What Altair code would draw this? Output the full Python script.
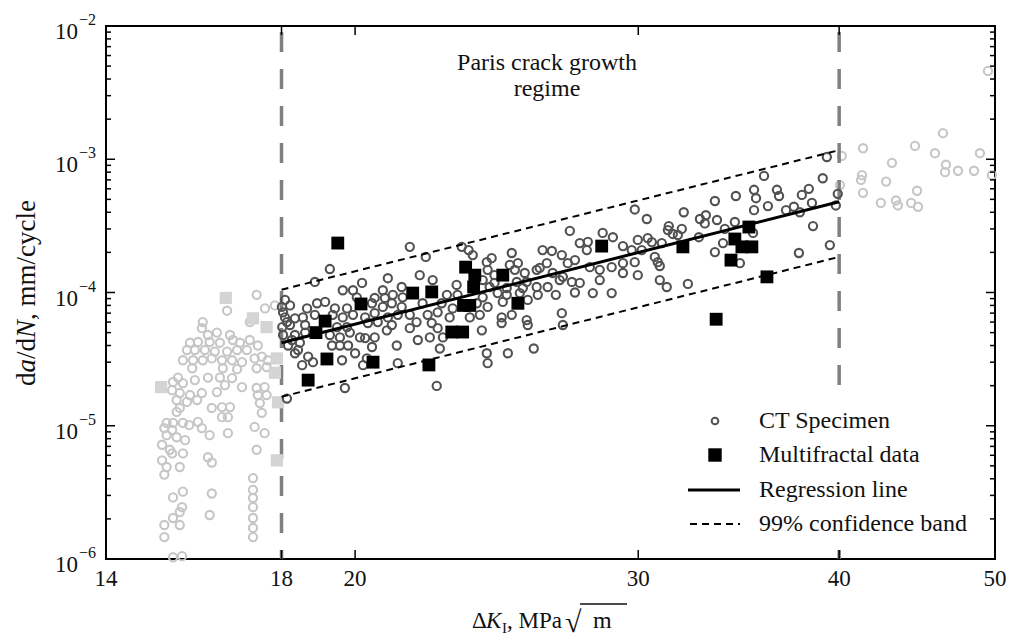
import altair as alt
import pandas as pd

# ---------------- data ----------------
# CT specimen, Paris regime (dark open circles)
CT_K = [21.63, 22.13, 19.29, 18.88, 20.96, 20.20, 21.94, 22.35, 19.65, 19.94, 20.81, 21.38,
        20.05, 20.57, 20.87, 21.11, 21.41, 18.01, 18.22, 18.67, 18.94, 19.16, 19.43, 19.77, 20.49, 20.81, 21.08, 21.38, 22.03, 22.64,
        18.09, 18.35, 18.56, 18.88, 19.37, 19.65, 19.94, 20.29, 20.57, 20.96, 21.26, 21.63, 22.19, 22.51,
        18.02, 18.22, 18.62, 19.49, 19.77, 20.37, 20.66, 21.08, 21.84, 22.32,
        18.35, 18.62, 19.29, 19.57, 19.85, 20.14, 20.57, 20.93, 21.63, 22.51,
        18.17, 18.48, 19.35, 19.57, 19.80, 20.29, 20.49, 21.23, 21.88, 22.26, 22.58,
        18.35, 18.70, 19.63, 20.00, 20.34, 18.54, 18.83, 20.23, 21.26, 19.71, 22.48,
        18.04, 18.14, 18.27, 18.43, 18.04, 18.09, 18.14,
        23.30, 23.53, 27.20, 28.51, 28.93, 27.59, 27.91, 27.87, 23.67, 25.03, 26.16, 26.51, 26.89,
        24.15, 24.32, 24.96, 25.25, 26.05, 26.32, 27.12, 27.40, 27.99, 28.39, 28.88,
        24.18, 24.42, 25.14, 25.50, 25.94, 26.54, 26.93, 24.01, 24.42, 25.21, 25.57, 26.81, 27.28, 28.39, 27.59,
        23.13, 24.25, 24.85, 25.43, 25.94, 26.35,
        22.81, 23.16, 27.40, 28.11, 28.88, 24.01, 24.53, 24.85, 25.32, 25.98, 26.66,
        23.00, 23.81, 24.18, 24.71, 25.61, 22.90, 23.57, 23.91, 24.67, 25.03, 25.57, 26.89,
        24.67, 25.61, 26.93, 23.98, 22.68, 24.15, 24.18, 24.89, 25.83,
        39.30, 39.07, 35.92, 39.92, 39.81, 35.41, 35.51, 36.59, 36.70, 34.50, 38.30, 37.92, 33.48, 38.47,
        35.41, 36.12, 37.07, 37.49, 37.81, 29.85, 30.37, 32.02, 32.77, 33.05, 33.00, 33.58, 34.45, 33.96,
        31.34, 31.30, 31.52, 31.93, 31.75, 32.72, 29.35, 29.98, 30.41, 30.59, 31.03, 33.87, 35.36,
        38.53, 39.47, 29.72, 30.15, 33.48, 37.76, 29.35, 29.85, 30.72, 30.85, 30.94, 34.70,
        29.35, 29.98, 30.94, 31.25, 32.21]
CT_DADN = [2.2e-4, 1.85e-4, 1.5e-4, 1.2e-4, 1.28e-4, 1.18e-4, 1.35e-4, 1.24e-4, 1.04e-4, 1.04e-4, 1.04e-4, 1.1e-4,
           9.2e-5, 9.1e-5, 9.1e-5, 9.6e-5, 9.2e-5, 7.8e-5, 8.0e-5, 7.6e-5, 8.3e-5, 8.5e-5, 7.6e-5, 7.6e-5, 8.3e-5, 7.8e-5, 8.3e-5, 7.8e-5, 8.3e-5, 8.3e-5,
           6.5e-5, 6.4e-5, 6.5e-5, 6.8e-5, 6.8e-5, 6.5e-5, 6.8e-5, 6.5e-5, 7.0e-5, 6.5e-5, 6.8e-5, 6.8e-5, 6.8e-5, 7.1e-5,
           5.5e-5, 5.7e-5, 5.7e-5, 5.5e-5, 5.5e-5, 5.9e-5, 6.0e-5, 5.7e-5, 6.0e-5, 5.9e-5,
           4.8e-5, 5.0e-5, 4.8e-5, 4.6e-5, 5.0e-5, 4.6e-5, 4.6e-5, 5.2e-5, 5.4e-5, 5.4e-5,
           4.0e-5, 4.2e-5, 4.0e-5, 4.0e-5, 4.0e-5, 4.55e-5, 3.9e-5, 4.0e-5, 4.4e-5, 4.6e-5, 3.8e-5,
           3.5e-5, 3.3e-5, 3.1e-5, 3.5e-5, 3.2e-5, 2.85e-5, 3.0e-5, 2.85e-5, 2.95e-5, 1.92e-5, 1.99e-5,
           7.1e-5, 6.0e-5, 4.4e-5, 3.7e-5, 4.8e-5, 8.8e-5, 1.6e-5,
           2.2e-4, 2.08e-4, 2.9e-4, 2.8e-4, 2.6e-4, 2.35e-4, 2.4e-4, 2.08e-4, 1.91e-4, 1.98e-4, 2.08e-4, 2.05e-4, 1.91e-4,
           1.69e-4, 1.81e-4, 1.61e-4, 1.66e-4, 1.53e-4, 1.66e-4, 1.66e-4, 1.75e-4, 1.55e-4, 1.48e-4, 1.55e-4,
           1.48e-4, 1.35e-4, 1.48e-4, 1.4e-4, 1.48e-4, 1.4e-4, 1.31e-4, 1.24e-4, 1.18e-4, 1.2e-4, 1.2e-4, 1.24e-4, 1.2e-4, 1.24e-4, 1.18e-4,
           1.14e-4, 1.1e-4, 1.08e-4, 1.08e-4, 1.1e-4, 1.1e-4,
           9.6e-5, 9.6e-5, 1.0e-4, 9.9e-5, 9.9e-5, 9.2e-5, 9.9e-5, 9.6e-5, 9.9e-5, 9.6e-5, 9.6e-5,
           7.6e-5, 8.3e-5, 7.8e-5, 8.5e-5, 8.8e-5, 6.5e-5, 6.5e-5, 6.8e-5, 6.5e-5, 6.8e-5, 6.2e-5, 7.0e-5,
           5.9e-5, 5.7e-5, 5.7e-5, 5.2e-5, 4.6e-5, 3.5e-5, 2.95e-5, 3.5e-5, 3.8e-5,
           1.04e-3, 7.2e-4, 7.5e-4, 5.5e-4, 4.5e-4, 5.9e-4, 5.1e-4, 5.9e-4, 5.3e-4, 5.3e-4, 6.0e-4, 5.4e-4, 4.86e-4, 4.7e-4,
           4.15e-4, 4.45e-4, 4.15e-4, 4.4e-4, 4.0e-4, 4.2e-4, 3.56e-4, 4.0e-4, 3.56e-4, 3.8e-4, 3.3e-4, 3.5e-4, 3.38e-4, 3.0e-4,
           3.15e-4, 2.94e-4, 2.75e-4, 3.0e-4, 2.7e-4, 2.6e-4, 2.23e-4, 2.48e-4, 2.56e-4, 2.39e-4, 2.35e-4, 2.35e-4, 2.8e-4,
           3.15e-4, 2.27e-4, 2.08e-4, 2.08e-4, 2.01e-4, 1.98e-4, 1.66e-4, 1.69e-4, 1.85e-4, 1.69e-4, 1.58e-4, 1.66e-4,
           1.4e-4, 1.35e-4, 1.24e-4, 1.1e-4, 1.16e-4]

# CT specimen outside the Paris regime (light open circles)
OUT_K = [17.37, 16.65, 17.83, 17.58, 16.08, 16.06, 17.20, 16.20, 16.41, 16.72, 15.79, 15.97, 16.24, 16.48, 16.79, 16.96, 17.20, 17.40,
         15.72, 15.90, 16.13, 16.36, 16.65, 16.89, 17.13, 15.63, 15.86, 16.08, 16.29, 16.53, 16.77, 17.01, 17.32, 17.50, 17.65,
         15.84, 16.55, 16.89, 17.37, 17.62, 15.52, 16.20, 16.48, 16.77, 15.41, 15.63, 15.90, 16.60, 17.01, 17.37, 17.57,
         15.39, 15.56, 15.79, 16.06, 16.41, 17.40, 17.62, 15.49, 15.72, 15.95, 17.45, 16.29, 16.53, 16.72, 15.56, 15.49, 17.50,
         16.53, 16.67, 15.27, 15.41, 15.63, 15.77, 15.97, 15.22, 15.39, 16.06, 17.32, 15.27, 15.49, 16.24, 16.67, 17.57,
         15.68, 15.17, 15.34, 17.37, 15.39, 15.63, 15.17, 16.20, 16.29, 15.27, 15.56, 15.22, 17.28, 15.63, 15.41, 16.29, 17.28,
         15.61, 17.28, 17.28, 15.56, 16.24, 15.41, 17.28, 15.22, 15.56, 17.28, 17.28, 15.22, 15.41, 15.61,
         49.5, 46.41, 41.39, 44.59, 45.88, 48.93, 40.15, 43.14, 46.61, 46.55, 47.42, 48.52, 49.78, 41.33, 41.27, 42.78,
         40.04, 41.39, 44.72, 42.46, 43.39, 43.51, 44.34, 44.78]
OUT_DADN = [9.6e-5, 7.3e-5, 8.0e-5, 7.6e-5, 6.0e-5, 5.4e-5, 6.0e-5, 4.8e-5, 5.0e-5, 4.8e-5, 4.2e-5, 4.25e-5, 4.25e-5, 4.2e-5, 4.4e-5, 4.2e-5, 4.4e-5, 4.0e-5,
            3.7e-5, 3.7e-5, 3.7e-5, 3.6e-5, 3.6e-5, 3.7e-5, 3.7e-5, 3.1e-5, 3.1e-5, 3.1e-5, 3.2e-5, 3.1e-5, 3.1e-5, 3.0e-5, 3.2e-5, 3.3e-5, 3.1e-5,
            2.7e-5, 2.7e-5, 2.66e-5, 2.7e-5, 2.76e-5, 2.3e-5, 2.3e-5, 2.3e-5, 2.28e-5, 2.13e-5, 2.09e-5, 2.2e-5, 2.02e-5, 1.95e-5, 1.92e-5, 1.95e-5,
            1.85e-5, 1.76e-5, 1.7e-5, 1.76e-5, 1.79e-5, 1.7e-5, 1.7e-5, 1.56e-5, 1.51e-5, 1.56e-5, 1.48e-5, 1.36e-5, 1.38e-5, 1.38e-5, 1.36e-5, 1.27e-5, 1.25e-5,
            1.16e-5, 1.16e-5, 1.05e-5, 1.05e-5, 1.05e-5, 1.01e-5, 1.07e-5, 9.6e-6, 9.3e-6, 9.6e-6, 9.8e-6, 8.5e-6, 8.2e-6, 8.5e-6, 8.8e-6, 8.8e-6,
            7.8e-6, 7.2e-6, 6.6e-6, 6.6e-6, 6.2e-6, 6.2e-6, 5.5e-6, 5.8e-6, 5.3e-6, 4.9e-6, 4.9e-6, 4.3e-6, 4.05e-6, 3.2e-6, 2.9e-6, 3.1e-6, 3.3e-6,
            2.45e-6, 2.87e-6, 2.45e-6, 2.25e-6, 2.14e-6, 2.03e-6, 2.03e-6, 1.8e-6, 1.8e-6, 1.71e-6, 1.46e-6, 1.46e-6, 1.03e-6, 1.05e-6,
            4.6e-3, 1.57e-3, 1.21e-3, 1.26e-3, 1.11e-3, 1.11e-3, 1.06e-3, 9.4e-4, 9.1e-4, 8.0e-4, 8.2e-4, 8.2e-4, 7.6e-4, 7.6e-4, 7.0e-4, 6.8e-4,
            6.4e-4, 5.6e-4, 5.8e-4, 4.7e-4, 4.9e-4, 4.5e-4, 4.7e-4, 4.4e-4]

# Multifractal data inside (black squares) and outside (light squares) the regime
MF_K = [19.51, 20.17, 19.16, 18.91, 21.72, 22.32, 19.21, 20.52, 22.23, 18.70, 23.43, 23.74, 23.70, 24.71,
        23.36, 23.57, 25.25, 22.97, 23.33, 28.47, 35.15, 34.45, 34.80, 35.30, 34.26, 31.98, 36.07, 33.54]
MF_DADN = [2.35e-4, 8.2e-5, 6.1e-5, 5.0e-5, 9.9e-5, 1.01e-4, 3.17e-5, 3.0e-5, 2.86e-5, 2.2e-5, 1.55e-4, 1.35e-4, 1.1e-4, 1.35e-4,
           8.0e-5, 8.0e-5, 8.3e-5, 5.05e-5, 5.05e-5, 2.23e-4, 3.1e-4, 2.52e-4, 2.2e-4, 2.2e-4, 1.75e-4, 2.2e-4, 1.31e-4, 6.3e-5]
MF_OUT_K = [16.62, 17.28, 17.62, 17.88, 17.83, 15.15, 17.91, 17.88]
MF_OUT_DADN = [9.1e-5, 6.4e-5, 5.5e-5, 3.2e-5, 2.5e-5, 1.95e-5, 1.5e-5, 5.5e-6]

# Regression line and 99 % confidence band
REG_K = [18, 40]
REG_DADN = [4.2e-5, 4.8e-4]
UP_DADN = [1.05e-4, 1.17e-3]
LO_DADN = [1.65e-5, 1.85e-4]
BOUNDS = [18, 40]

# Axis ticks
X_TICKS = [14, 18, 20, 30, 40, 50]
X_LABELS = ["14", "18", "20", "30", "40", "50"]
X_INNER_TICKS = [18, 20, 30, 40]
Y_MAJOR = [1e-6, 1e-5, 1e-4, 1e-3, 1e-2]
Y_EXP = ["\u22126", "\u22125", "\u22124", "\u22123", "\u22122"]
Y_MINOR = [m * 10.0 ** e for e in (-6, -5, -4, -3) for m in range(2, 10)]

# ---------------- chart ----------------
W, H = 889, 533
FONT = "Liberation Serif"
INK = "#111111"
xs = alt.Scale(type="log", domain=[14, 50], nice=False, zero=False)
ys = alt.Scale(type="log", domain=[1e-6, 1e-2], nice=False, zero=False)

ct = pd.DataFrame({"K": CT_K, "dadn": CT_DADN})
ct_out = pd.DataFrame({"K": OUT_K, "dadn": OUT_DADN})
mf = pd.DataFrame({"K": MF_K, "dadn": MF_DADN})
mf_out = pd.DataFrame({"K": MF_OUT_K, "dadn": MF_OUT_DADN})
reg = pd.DataFrame({"K": REG_K, "reg": REG_DADN, "up": UP_DADN, "lo": LO_DADN})
bounds = pd.DataFrame({"K": BOUNDS})
xlab = pd.DataFrame({"K": X_TICKS, "lab": X_LABELS})
ymaj = pd.DataFrame({"v": Y_MAJOR, "e": Y_EXP})
ymin = pd.DataFrame({"v": Y_MINOR})
xin = pd.DataFrame({"K": X_INNER_TICKS})
one = pd.DataFrame({"a": [0]})


def X(field="K"):
    return alt.X(f"{field}:Q", scale=xs, axis=None)


def Y(field="dadn"):
    return alt.Y(f"{field}:Q", scale=ys, axis=None)


# light outside points, carrying the grid
out_layer = alt.Chart(ct_out).mark_point(
    shape="circle", filled=False, color="#c6c6c6", size=68, strokeWidth=2.1, opacity=1
).encode(
    x=alt.X("K:Q", scale=xs, axis=alt.Axis(
        values=X_TICKS, title=None, ticks=False, domain=False, labels=False, grid=True,
        gridColor="#d9d9d9", gridWidth=1.5)),
    y=alt.Y("dadn:Q", scale=ys, axis=alt.Axis(
        values=Y_MAJOR, title=None, labels=False, ticks=False, domain=False, grid=True,
        gridColor="#d9d9d9", gridWidth=1.5)),
)

bound_layer = alt.Chart(bounds).mark_rule(
    color="#808080", strokeWidth=3.5, strokeDash=[20, 17], strokeDashOffset=-6
).encode(x=X())

mf_out_layer = alt.Chart(mf_out).mark_point(
    shape="square", filled=True, color="#d4d4d4", size=150, opacity=1
).encode(x=X(), y=Y())

ct_layer = alt.Chart(ct).mark_point(
    shape="circle", filled=False, color="#525252", size=68, strokeWidth=2.1, opacity=1
).encode(x=X(), y=Y())

mf_layer = alt.Chart(mf).mark_point(
    shape="square", filled=True, color="black", size=165, opacity=1
).encode(x=X(), y=Y())

up_layer = alt.Chart(reg).mark_line(color="black", strokeWidth=2, strokeDash=[7, 5]).encode(x=X(), y=Y("up"))
lo_layer = alt.Chart(reg).mark_line(color="black", strokeWidth=2, strokeDash=[7, 5]).encode(x=X(), y=Y("lo"))
reg_layer = alt.Chart(reg).mark_line(color="black", strokeWidth=3).encode(x=X(), y=Y("reg"))

# inward ticks
tick_style = dict(color="black", strokeWidth=1.5)
yl_major = alt.Chart(ymaj).mark_rule(**tick_style).encode(y=Y("v"), x=alt.value(0), x2=alt.value(9))
yl_minor = alt.Chart(ymin).mark_rule(**tick_style).encode(y=Y("v"), x=alt.value(0), x2=alt.value(5))
yr_major = alt.Chart(ymaj).mark_rule(**tick_style).encode(y=Y("v"), x=alt.value(W), x2=alt.value(W - 9))
yr_minor = alt.Chart(ymin).mark_rule(**tick_style).encode(y=Y("v"), x=alt.value(W), x2=alt.value(W - 5))
xt_top = alt.Chart(xin).mark_rule(**tick_style).encode(x=X(), y=alt.value(0), y2=alt.value(9))
xt_bot = alt.Chart(xin).mark_rule(**tick_style).encode(x=X(), y=alt.value(H), y2=alt.value(H - 9))

# tick labels
x_lab = alt.Chart(xlab).mark_text(font=FONT, fontSize=23, align="center", baseline="middle", color=INK).encode(
    x=X(), y=alt.value(H + 20), text="lab:N")
y_base = alt.Chart(ymaj).mark_text(font=FONT, fontSize=23, align="right", baseline="middle", dy=6, color=INK).encode(
    y=Y("v"), x=alt.value(-28), text=alt.value("10"))
y_exp = alt.Chart(ymaj).mark_text(font=FONT, fontSize=16, align="left", baseline="middle", dy=-6, color=INK).encode(
    y=Y("v"), x=alt.value(-27), text="e:N")


def txt(s, x, y, size=23, style="normal", align="left", baseline="alphabetic", angle=0):
    kw = dict(font=FONT, fontSize=size, fontStyle=style, align=align, baseline=baseline, color=INK)
    if angle:
        kw["angle"] = angle
    return alt.Chart(one).mark_text(**kw).encode(x=alt.value(x), y=alt.value(y), text=alt.value(s))


paris1 = txt("Paris crack growth", 441, 44, size=24, align="center")
paris2 = txt("regime", 441, 70, size=24, align="center")

# x title: ΔK_I, MPa√m
xt = [
    txt("\u0394", 366, 602, size=23),
    txt("K", 380, 602, size=23, style="italic"),
    txt("I", 396, 607, size=15),
    txt(", MPa", 401, 602, size=23),
    txt("\u221a", 459, 606, size=30),
    txt("m", 487, 602, size=24),
]
xt_bar = alt.Chart(one).mark_rule(color=INK, strokeWidth=1.5).encode(
    x=alt.value(474), x2=alt.value(521), y=alt.value(578))

# y title: da/dN, mm/cycle (rotated)
YX = -79
yt = [
    txt("d", YX, 360, size=27, angle=270, baseline="middle"),
    txt("a", YX, 346.5, size=27, style="italic", angle=270, baseline="middle"),
    txt("/d", YX, 333, size=27, angle=270, baseline="middle"),
    txt("N", YX, 312, size=27, style="italic", angle=270, baseline="middle"),
    txt(", mm/cycle", YX, 294, size=27, angle=270, baseline="middle"),
]

# legend
leg_box = alt.Chart(one).mark_rect(color="white").encode(
    x=alt.value(572), x2=alt.value(884), y=alt.value(374), y2=alt.value(521))
leg_c = alt.Chart(one).mark_point(shape="circle", filled=False, color="#525252", size=45, strokeWidth=2, opacity=1).encode(
    x=alt.value(609), y=alt.value(395))
leg_s = alt.Chart(one).mark_point(shape="square", filled=True, color="black", size=180, opacity=1).encode(
    x=alt.value(609), y=alt.value(429))
leg_l = alt.Chart(one).mark_rule(color="black", strokeWidth=3).encode(
    x=alt.value(582), x2=alt.value(634), y=alt.value(464))
leg_d = alt.Chart(one).mark_rule(color="black", strokeWidth=2, strokeDash=[7, 5]).encode(
    x=alt.value(584), x2=alt.value(634), y=alt.value(498))
leg_t = [
    txt("CT Specimen", 653, 395, size=24, baseline="middle"),
    txt("Multifractal data", 653, 429, size=24, baseline="middle"),
    txt("Regression line", 653, 464, size=24, baseline="middle"),
    txt("99% confidence band", 653, 498, size=24, baseline="middle"),
]

chart = alt.layer(
    out_layer, bound_layer, mf_out_layer, ct_layer, mf_layer, up_layer, lo_layer, reg_layer,
    leg_box, leg_c, leg_s, leg_l, leg_d, *leg_t,
    yl_major, yl_minor, yr_major, yr_minor, xt_top, xt_bot,
    x_lab, y_base, y_exp, paris1, paris2, *xt, xt_bar, *yt,
).properties(
    width=W, height=H,
    padding={"left": 106, "top": 26, "right": 23, "bottom": 78},
    autosize=alt.AutoSizeParams(type="none"),
    background="white",
).configure_view(stroke="black", strokeWidth=2)

chart.save("out.html", embed_options={"renderer": "svg", "actions": False})
